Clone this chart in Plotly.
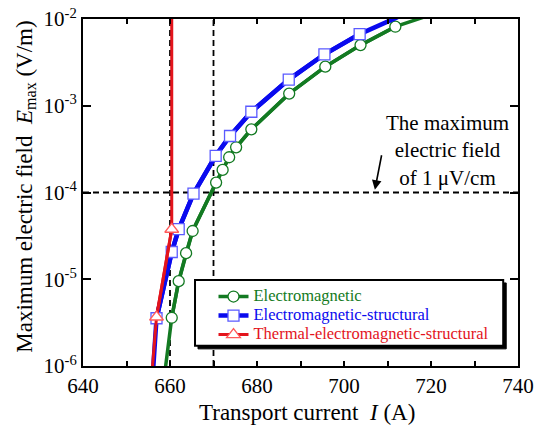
import plotly.graph_objects as go

# ---- data ----
em_I = [660.4, 662.0, 663.7, 665.2, 670.6, 672.1, 673.6, 675.2, 678.7, 687.4, 695.7, 703.8, 711.8]
em_E = [3.6e-6, 9.5e-6, 2.0e-5, 3.6e-5, 1.30e-4, 1.82e-4, 2.55e-4, 3.32e-4, 5.35e-4, 1.38e-3, 2.82e-3, 5.0e-3, 8.15e-3]
em_line_I = [658.95] + em_I + [718.3]
em_line_E = [9.5e-7] + em_E + [1.05e-2]

ems_I = [656.9, 660.4, 662.0, 665.4, 670.5, 673.8, 678.7, 687.3, 695.5, 703.6]
ems_E = [3.55e-6, 2.06e-5, 3.78e-5, 9.7e-5, 2.65e-4, 4.48e-4, 8.53e-4, 2.0e-3, 3.92e-3, 6.7e-3]
ems_line_I = [656.15] + ems_I + [712.3]
ems_line_E = [9.5e-7] + ems_E + [1.05e-2]

tems_I = [656.9, 660.4]
tems_E = [3.67e-6, 3.77e-5]
tems_line_I = [655.95] + tems_I + [660.4]
tems_line_E = [9.5e-7] + tems_E + [1.05e-2]

x_ticks = [640, 650, 660, 670, 680, 690, 700, 710, 720, 730, 740]
x_ticktext = ["640", "", "660", "", "680", "", "700", "", "720", "", "740"]
y_ticks = [1e-6, 1e-5, 1e-4, 1e-3, 1e-2]
y_ticktext = ["10<sup>-6</sup>", "10<sup>-5</sup>", "10<sup>-4</sup>", "10<sup>-3</sup>", "10<sup>-2</sup>"]
limit_E = 1e-4
ref_I = [660, 670]

GREEN = "#137a22"
BLUE = "#0a0aee"
RED = "#e3141c"
FONT = "Liberation Serif"

fig = go.Figure()

# reference dashed lines
for xv in ref_I:
    fig.add_shape(type="line", xref="x", yref="paper", x0=xv, x1=xv, y0=0, y1=1,
                  line=dict(color="black", width=1.8, dash="6px,4px"), layer="below")
fig.add_shape(type="line", xref="paper", yref="y", x0=0, x1=1, y0=limit_E, y1=limit_E,
              line=dict(color="black", width=1.8, dash="6px,4px"), layer="below")

series = [
    ("Electromagnetic", em_line_I, em_line_E, em_I, em_E, GREEN, "circle", 3.5, 11, GREEN),
    ("Electromagnetic-structural", ems_line_I, ems_line_E, ems_I, ems_E, BLUE, "square", 4.5, 11, "#5a5aff"),
    ("Thermal-electromagnetic-structural", tems_line_I, tems_line_E, tems_I, tems_E, RED, "triangle-up", 3.0, 12, "#ff5a5a"),
]
for name, lx, ly, mx, my, col, sym, lw, ms, mcol in series:
    fig.add_trace(go.Scatter(x=lx, y=ly, mode="lines", line=dict(color=col, width=lw),
                             showlegend=False, hoverinfo="skip"))
    fig.add_trace(go.Scatter(x=mx, y=my, mode="lines+markers",
                             name=f"<span style='color:{col};font-size:16.5px'>{name}</span>",
                             line=dict(color=col, width=lw),
                             marker=dict(symbol=sym, size=ms, color="white",
                                         line=dict(color=mcol, width=1.3))))

# legend box with shadow
bx0, bx1, by0, by1 = 0.2575, 0.966, 0.058, 0.248
sx, sy = 3 / 435, 3 / 347
fig.add_shape(type="rect", xref="paper", yref="paper", x0=bx0 + sx, x1=bx1 + sx, y0=by0 - sy, y1=by1 - sy,
              fillcolor="black", line=dict(color="black", width=1), layer="above")
fig.add_shape(type="rect", xref="paper", yref="paper", x0=bx0, x1=bx1, y0=by0, y1=by1,
              fillcolor="white", line=dict(color="black", width=2), layer="above")

fig.add_annotation(text="The maximum<br>electric field<br>of 1 \u03bcV/cm", xref="paper", yref="paper",
                   x=0.837, y=0.62, showarrow=False, xanchor="center", yanchor="middle",
                   font=dict(family=FONT, size=21, color="black"), align="center")
fig.add_annotation(text="", xref="paper", yref="paper", x=0.671, y=0.508, ax=7, ay=-36,
                   showarrow=True, arrowhead=2, arrowsize=1.2, arrowwidth=1.6, arrowcolor="black")

fig.add_annotation(text="Maximum electric field  <i>E</i><sub>max</sub> (V/m)", xref="paper", yref="paper",
                   x=-0.133, y=0.517, textangle=-90, showarrow=False, xanchor="center", yanchor="middle",
                   font=dict(family=FONT, size=23, color="black"))
fig.add_annotation(text="Transport current  <i>I</i> (A)", xref="paper", yref="paper",
                   x=0.515, y=-0.133, showarrow=False, xanchor="center", yanchor="middle",
                   font=dict(family=FONT, size=23, color="black"))

fig.update_layout(
    width=536, height=426,
    margin=dict(l=83, r=18, t=19, b=60, autoexpand=False),
    paper_bgcolor="white", plot_bgcolor="white",
    font=dict(family=FONT, size=21, color="black"),
    legend=dict(x=0.300, y=0.242, xanchor="left", yanchor="top", bgcolor="rgba(0,0,0,0)",
                borderwidth=0, font=dict(family=FONT, size=12), tracegroupgap=0,
                itemwidth=30),
    xaxis=dict(range=[640, 740], tickvals=x_ticks, ticktext=x_ticktext, ticks="inside", ticklen=5,
               tickwidth=2, tickcolor="black", showline=True, linewidth=2, linecolor="black",
               mirror="ticks", showgrid=False, zeroline=False, automargin=False,
               tickfont=dict(family=FONT, size=21, color="black")),
    yaxis=dict(type="log", range=[-6, -2], tickvals=y_ticks, ticktext=y_ticktext, ticks="inside",
               ticklen=8, tickwidth=2, tickcolor="black", showline=True, linewidth=2, linecolor="black",
               mirror="ticks", showgrid=False, zeroline=False, automargin=False,
               tickfont=dict(family=FONT, size=21, color="black")),
)

fig.write_html("out.html")
